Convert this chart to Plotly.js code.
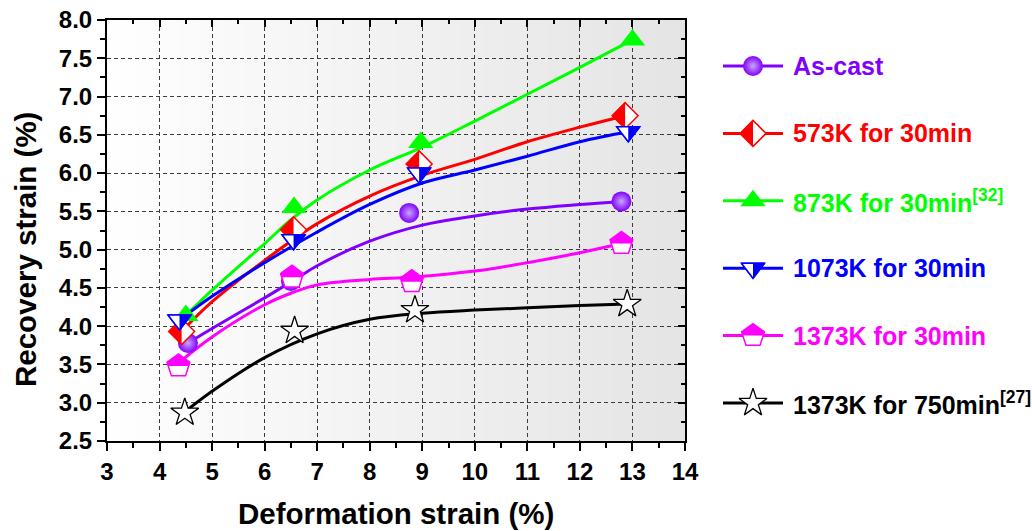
<!DOCTYPE html>
<html><head><meta charset="utf-8">
<script src="https://cdn.plot.ly/plotly-3.0.1.min.js"></script>
<style>html,body{margin:0;padding:0;background:#fff}</style>
</head><body><div id="chart" style="width:1032px;height:531px"></div>
<script>
// ---------------- data ----------------
const seriesNames = ['As-cast', '573K for 30min', '873K for 30min<sup>[32]</sup>', '1073K for 30min', '1373K for 30min', '1373K for 750min<sup>[27]</sup>'];

const asCastX = [4.54, 6.50, 8.75, 12.79];
const asCastY = [3.78, 4.59, 5.48, 5.63];
const k573X = [4.42, 6.55, 8.94, 12.86];
const k573Y = [3.93, 5.26, 6.12, 6.75];
const k873X = [4.50, 6.56, 8.97, 13.00];
const k873Y = [4.14, 5.55, 6.40, 7.74];
const k1073X = [4.38, 6.55, 8.94, 12.92];
const k1073Y = [4.08, 5.13, 6.00, 6.54];
const k1373X = [4.36, 6.52, 8.80, 12.79];
const k1373Y = [3.48, 4.64, 4.58, 5.08];
const k750X = [4.48, 6.57, 8.86, 12.90];
const k750Y = [2.87, 3.94, 4.21, 4.29];

// fitted curves
const asCastFitX = [4.54, 5, 6, 6.6, 7, 8, 9, 10, 11, 12, 12.79];
const asCastFitY = [3.78, 3.97, 4.37, 4.62, 4.79, 5.11, 5.32, 5.44, 5.53, 5.59, 5.63];
const k573FitX = [4.42, 5, 6, 7, 8, 9, 10, 11, 12, 12.86];
const k573FitY = [3.93, 4.32, 4.86, 5.34, 5.70, 5.97, 6.18, 6.41, 6.60, 6.75];
const k873FitX = [4.50, 5, 6, 6.5, 7, 8, 9, 10, 11, 12, 13.00];
const k873FitY = [4.14, 4.47, 5.08, 5.39, 5.65, 6.04, 6.34, 6.68, 7.03, 7.38, 7.74];
const k1073FitX = [4.38, 5, 6, 7, 8, 9, 10, 11, 12, 12.92];
const k1073FitY = [4.08, 4.39, 4.83, 5.23, 5.59, 5.87, 6.04, 6.22, 6.41, 6.54];
const k1373FitX = [4.36, 5, 6, 6.5, 7, 8, 8.8, 10, 11, 12, 12.79];
const k1373FitY = [3.52, 3.86, 4.28, 4.43, 4.54, 4.61, 4.64, 4.72, 4.83, 4.96, 5.08];
const k750FitX = [4.48, 5, 6, 7, 8, 9, 10, 11, 12, 12.90];
const k750FitY = [2.88, 3.15, 3.59, 3.90, 4.09, 4.17, 4.21, 4.24, 4.27, 4.29];

const xRange = [3, 14];
const yRange = [2.5, 8.0];
const xTickVals = [3, 4, 5, 6, 7, 8, 9, 10, 11, 12, 13, 14];
const xTickLabels = ['3', '4', '5', '6', '7', '8', '9', '10', '11', '12', '13', '14'];
const yTickVals = [2.5, 3.0, 3.5, 4.0, 4.5, 5.0, 5.5, 6.0, 6.5, 7.0, 7.5, 8.0];
const yTickLabels = ['2.5', '3.0', '3.5', '4.0', '4.5', '5.0', '5.5', '6.0', '6.5', '7.0', '7.5', '8.0'];

// ---------------- styling ----------------
const FONT = 'Liberation Sans, Arial, Helvetica, sans-serif';
const C = {purple:'#8000ff', red:'#ff0000', green:'#00ff00', blue:'#0000ff', magenta:'#ff00ff', black:'#000000'};

const W = 1032, H = 531, ML = 107, MR = 10, MT = 20, MB = 90;
const PW = W - ML - MR, PH = H - MT - MB;
const pxX = p => (p - ML) / PW;          // pixel -> paper x
const pxY = p => (MT + PH - p) / PH;     // pixel -> paper y
const plotRightPx = 685;

const mk = {
  sphere: {symbol:'circle', size:20, color:C.purple, gradient:{type:'radial', color:'#c9a6ff'}, line:{width:0}},
  diamond: {symbol:'diamond', size:20, color:'#ffffff', line:{color:C.red, width:1.5}},
  triUp: {symbol:'triangle-up', size:22, color:C.green, line:{width:0}},
  triDown: {symbol:'triangle-down', size:20, color:'#ffffff', line:{color:C.blue, width:1.5}},
  pent: {symbol:'pentagon', size:24, color:'#ffffff', line:{color:C.magenta, width:1.5}},
  star: {symbol:'star', size:21, color:'#ffffff', line:{color:C.black, width:1.3}}
};

const series = [
  {x:asCastX, y:asCastY, fx:asCastFitX, fy:asCastFitY, color:C.purple, m:mk.sphere},
  {x:k573X, y:k573Y, fx:k573FitX, fy:k573FitY, color:C.red, m:mk.diamond},
  {x:k873X, y:k873Y, fx:k873FitX, fy:k873FitY, color:C.green, m:mk.triUp},
  {x:k1073X, y:k1073Y, fx:k1073FitX, fy:k1073FitY, color:C.blue, m:mk.triDown},
  {x:k1373X, y:k1373Y, fx:k1373FitX, fy:k1373FitY, color:C.magenta, m:mk.pent},
  {x:k750X, y:k750Y, fx:k750FitX, fy:k750FitY, color:C.black, m:mk.star}
];
const markerOrder = [0, 4, 5, 1, 2, 3];

const traces = [];
series.forEach((s, i) => {
  traces.push({x:s.fx, y:s.fy, mode:'lines', line:{shape:'spline', smoothing:1, width:3, color:s.color},
    showlegend:false, hoverinfo:'skip', name:seriesNames[i]});
});
markerOrder.forEach(i => {
  const s = series[i];
  traces.push({x:s.x, y:s.y, mode:'markers', marker:s.m, showlegend:false, name:seriesNames[i], cliponaxis:false});
});
// legend (manual)
series.forEach((s, i) => {
  traces.push({x:[0, 1], y:[i, i], xaxis:'x2', yaxis:'y2', mode:'lines', line:{width:3, color:s.color}, showlegend:false, hoverinfo:'skip', cliponaxis:false});
  traces.push({x:[0.5], y:[i], xaxis:'x2', yaxis:'y2', mode:'markers', marker:s.m, showlegend:false, hoverinfo:'skip', cliponaxis:false});
});
// dummies for the mirrored (inside-tick) axes
traces.push({x:[], y:[], xaxis:'x3', yaxis:'y', showlegend:false, hoverinfo:'skip'});
traces.push({x:[], y:[], xaxis:'x', yaxis:'y3', showlegend:false, hoverinfo:'skip'});

// ---------------- shapes ----------------
const shapes = [];
// background gradient (white -> light grey)
const NSTRIP = 80;
for (let k = 0; k < NSTRIP; k++) {
  const c = Math.round(255 - (255 - 228) * (k + 0.5) / NSTRIP);
  shapes.push({type:'rect', xref:'x domain', yref:'y domain', x0:k / NSTRIP, x1:Math.min(1, (k + 1.6) / NSTRIP),
    y0:0, y1:1, fillcolor:`rgb(${c},${c},${c})`, line:{width:0}, layer:'below'});
}
// half-filled marker parts
const P_DIAMOND_LEFT = 'M-13,0 L0,13 L0,-13 Z';
const P_TRIDOWN_FULL = 'M-11.55,5 L11.55,5 L0,-10 Z';
const P_TRIDOWN_RIGHT = 'M0,5 L11.55,5 L0,-10 Z';
const P_PENT_TOP = 'M0,12 L11.41,3.71 L10.21,0 L-10.21,0 L-11.41,3.71 Z';
function addHalf(xs, ys, path, fill, lineColor, xref, yref) {
  xs.forEach((x, j) => {
    shapes.push({type:'path', xref, yref, xsizemode:'pixel', ysizemode:'pixel', xanchor:x, yanchor:ys[j],
      path, fillcolor:fill, line:lineColor ? {color:lineColor, width:1.5} : {width:0}, layer:'above'});
  });
}
function addHalves(sIdx, xs, ys, xref, yref) {
  if (sIdx === 1) addHalf(xs, ys, P_DIAMOND_LEFT, C.red, null, xref, yref);
  if (sIdx === 4) addHalf(xs, ys, P_PENT_TOP, C.magenta, null, xref, yref);
  if (sIdx === 3) {
    addHalf(xs, ys, P_TRIDOWN_FULL, '#ffffff', C.blue, xref, yref);
    addHalf(xs, ys, P_TRIDOWN_RIGHT, C.blue, null, xref, yref);
  }
}
[1, 4, 3].forEach(i => addHalves(i, series[i].x, series[i].y, 'x', 'y'));
[1, 4, 3].forEach(i => addHalves(i, [0.5], [i], 'x2', 'y2'));

// ---------------- annotations ----------------
const annotations = [];
series.forEach((s, i) => {
  annotations.push({xref:'paper', yref:'y2', x:pxX(791), y:i, xanchor:'left', yanchor:'middle', showarrow:false,
    text:'<b>' + seriesNames[i] + '</b>', font:{family:FONT, size:25, color:s.color}});
});
annotations.push({xref:'paper', yref:'paper', x:pxX(396), y:pxY(513), xanchor:'center', yanchor:'middle', showarrow:false,
  text:'<b>Deformation strain (%)</b>', font:{family:FONT, size:29.5, color:'#000'}});
annotations.push({xref:'paper', yref:'paper', x:pxX(25), y:pxY(250), xanchor:'center', yanchor:'middle', showarrow:false,
  textangle:-90, text:'<b>Recovery strain (%)</b>', font:{family:FONT, size:29.5, color:'#000'}});

// ---------------- axes ----------------
const mainDomX = [0, pxX(plotRightPx)];
const tickFont = {family:FONT, size:24, color:'#000', weight:'bold'};
const grid = {showgrid:true, gridcolor:'#3c3c3c', gridwidth:1, griddash:'4px,3px'};
const bold = arr => arr.map(t => '<b>' + t + '</b>');

const layout = {
  width:W, height:H, margin:{l:ML, r:MR, t:MT, b:MB, pad:0},
  paper_bgcolor:'#ffffff', plot_bgcolor:'rgba(0,0,0,0)', showlegend:false,
  xaxis:Object.assign({domain:mainDomX, range:xRange, tickmode:'array', tickvals:xTickVals, ticktext:bold(xTickLabels),
    ticks:'outside', ticklen:8, tickwidth:2, tickcolor:'#000',
    showline:true, linewidth:2, linecolor:'#000', zeroline:false, tickfont:tickFont, ticklabelstandoff:0,
    minor:{tick0:0, dtick:0.5, ticks:'outside', ticklen:5, tickwidth:2, tickcolor:'#000', showgrid:false}, anchor:'y'}, grid),
  yaxis:Object.assign({domain:[0, 1], range:yRange, tickmode:'array', tickvals:yTickVals, ticktext:bold(yTickLabels),
    ticks:'outside', ticklen:8, tickwidth:2, tickcolor:'#000',
    showline:true, linewidth:2, linecolor:'#000', zeroline:false, tickfont:tickFont, ticklabelstandoff:0,
    minor:{tick0:0, dtick:0.25, ticks:'outside', ticklen:5, tickwidth:2, tickcolor:'#000', showgrid:false}, anchor:'x'}, grid),
  xaxis3:{overlaying:'x', side:'top', anchor:'y', range:xRange, tick0:0, dtick:1, ticks:'inside', ticklen:7, tickwidth:2, tickcolor:'#000',
    showline:true, linewidth:2, linecolor:'#000', showticklabels:false, showgrid:false, zeroline:false,
    minor:{tick0:0, dtick:0.5, ticks:'inside', ticklen:4, tickwidth:2, tickcolor:'#000', showgrid:false}},
  yaxis3:{overlaying:'y', side:'right', anchor:'x', range:yRange, tick0:0, dtick:0.5, ticks:'inside', ticklen:7, tickwidth:2, tickcolor:'#000',
    showline:true, linewidth:2, linecolor:'#000', showticklabels:false, showgrid:false, zeroline:false,
    minor:{tick0:0, dtick:0.25, ticks:'inside', ticklen:4, tickwidth:2, tickcolor:'#000', showgrid:false}},
  xaxis2:{domain:[pxX(723), pxX(783)], range:[0, 1], visible:false, anchor:'y2', fixedrange:true},
  yaxis2:{domain:[0, 1], range:[(441 - 66) / 67.4, -(66 - 20) / 67.4], visible:false, anchor:'x2', fixedrange:true},
  shapes, annotations
};

Plotly.newPlot('chart', traces, layout, {displayModeBar:false, staticPlot:true});
</script>
</body></html>
